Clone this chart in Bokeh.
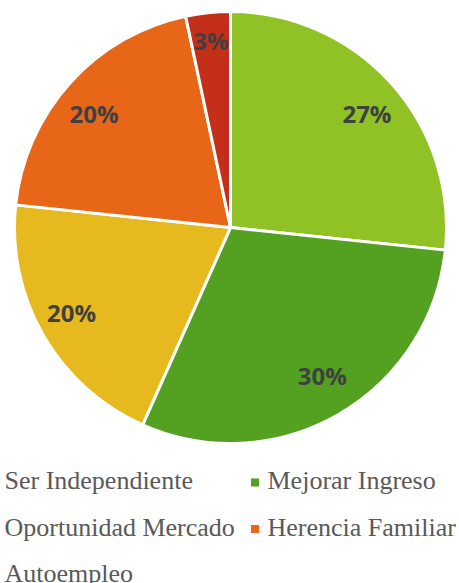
import math
import numpy as np
from bokeh.plotting import figure
from bokeh.models import ColumnDataSource, Range1d
from bokeh.core.properties import value
from bokeh.embed import file_html
from bokeh.resources import INLINE

categories = ["Ser Independiente", "Mejorar Ingreso", "Oportunidad Mercado", "Herencia Familiar", "Autoempleo"]
shares = [26.67, 30.0, 20.0, 20.0, 3.33]
labels = ["27%", "30%", "20%", "20%", "3%"]
colors = ["#90C226", "#54A021", "#E6B91E", "#E76618", "#C42F1A"]

# geometry in screen pixels (1 data unit = 1 px), pie centre at the origin
R = 216.0
total = sum(shares)
cum = np.cumsum([0.0] + shares)
start = [math.pi / 2 - 2 * math.pi * cum[i] / total for i in range(len(shares))]
end = [math.pi / 2 - 2 * math.pi * cum[i + 1] / total for i in range(len(shares))]
mid = [(s + e) / 2 for s, e in zip(start, end)]
fx = [0.85 if s > 10 else 0.87 for s in shares]
fy = [0.79 if s > 10 else 0.87 for s in shares]
lx = [f * R * math.cos(m) for f, m in zip(fx, mid)]
ly = [f * R * math.sin(m) for f, m in zip(fy, mid)]

# legend layout: two columns, row-major (first column's markers fall off the left edge)
col_text_x = [-226.0, 37.0]
row_pitch = 46.5
first_row_mid = -253.0

src = ColumnDataSource(dict(cat=categories, share=shares, start=start, end=end,
                            color=colors, lx=lx, ly=ly, lab=labels))

p = figure(width=459, height=583, output_backend="svg", toolbar_location=None,
           x_range=Range1d(-230, 229), y_range=Range1d(227 - 583, 227),
           min_border=0, outline_line_color=None)
p.axis.visible = False
p.grid.visible = False
p.background_fill_color = "white"
p.border_fill_color = "white"

p.wedge(x=0, y=0, radius=R, start_angle="start", end_angle="end", direction="clock",
        fill_color="color", line_color="white", line_width=3, source=src)
p.text(x="lx", y="ly", text="lab", source=src, text_align="center", text_baseline="middle",
       text_font=value("Open Sans"), text_font_style="bold", text_font_size="24px",
       text_color="#404040")

# legend, one entry at a time
for i, (cat, col) in enumerate(zip(categories, colors)):
    tx = col_text_x[i % 2]
    ty = first_row_mid - row_pitch * (i // 2)
    p.scatter(x=[tx - 12.5], y=[ty - 2.0], marker="square", size=8, fill_color=col,
              line_color=None)
    p.text(x=[tx], y=[ty], text=[cat], text_align="left", text_baseline="middle",
           text_font=value("Liberation Serif, Times New Roman, serif"),
           text_font_size="26px", text_color="#595959")

open("out.html", "w").write(file_html(p, INLINE))
